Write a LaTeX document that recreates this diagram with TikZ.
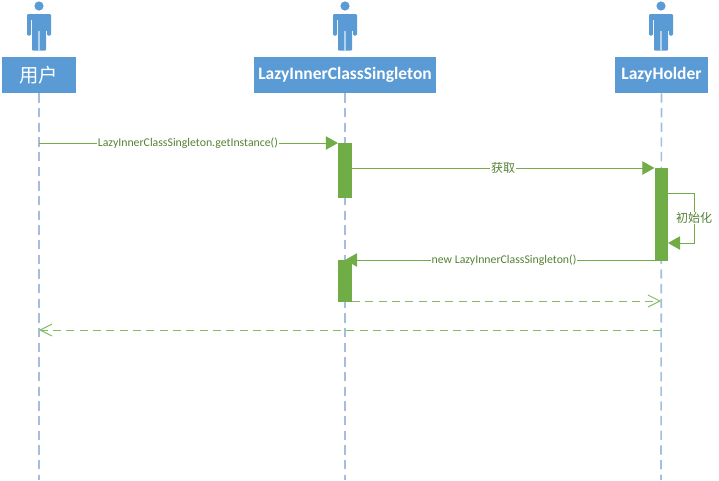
\documentclass[tikz,border=0pt]{standalone}
\usepackage{fontspec}
\setmainfont{Carlito}
\newfontfamily\cjk{Noto Sans CJK SC}
\usetikzlibrary{arrows.meta,calc}
\definecolor{umlblue}{HTML}{5B9BD5}
\definecolor{lifeblue}{HTML}{A3BFDD}
\definecolor{umlgreen}{HTML}{70AD47}
\definecolor{labelgreen}{HTML}{548235}
\tikzset{
 x=0.75pt,y=-0.75pt,
 headbox/.style={fill=umlblue,text=white,inner sep=0pt,minimum height=27pt,font=\bfseries\fontsize{13.1}{15}\selectfont},
 lifeline/.style={draw=lifeblue,line width=1.2pt,dash pattern=on 7pt off 4pt},
 activation/.style={fill=umlgreen,draw=none,inner sep=0pt,minimum width=10.2pt},
 msg/.style={draw=umlgreen,line width=0.75pt,-{Triangle[length=9pt,width=10pt,fill=umlgreen]}},
 reply/.style={draw=umlgreen!85,line width=0.75pt,dash pattern=on 6pt off 4pt,-{Straight Barb[length=9pt,width=9pt,line width=0.75pt]}},
 msglabel/.style={fill=white,inner sep=0.6pt,text=labelgreen,font=\fontsize{8.85}{10}\selectfont},
 cjklabel/.style={fill=white,inner sep=0.6pt,text=labelgreen,font=\cjk\fontsize{9}{11}\selectfont},
}
\newcommand{\personicon}[1]{%
 \begin{scope}[shift={(#1,0)}]
  \fill[umlblue] (0,6) circle[radius=4.6];
  \fill[umlblue,rounded corners=0.8pt] (-12,35.5) -- (-12,14) -- (12,14) -- (12,35.5) -- (8,35.5) -- (8,19) -- (7,19) -- (7,50.7) -- (-7,50.7) -- (-7,19) -- (-8,19) -- (-8,35.5) -- cycle;
  \fill[umlblue] (-7.5,14) rectangle (7.5,31);
  \fill[umlblue!45] (-0.8,31) rectangle (0.8,50.7);
 \end{scope}}
\begin{document}
\begin{tikzpicture}
\useasboundingbox (0,0) rectangle (719,480);
\personicon{39}
\personicon{345}
\personicon{661}
\node[headbox,minimum width=55.5pt] (user) at (39,75) {\cjk\mdseries\fontsize{14.5}{16}\selectfont 用户};
\node[headbox,minimum width=136.5pt] (lazyinner) at (345,75) {LazyInnerClassSingleton};
\node[headbox,minimum width=70pt] (holder) at (661.5,75) {LazyHolder};
\coordinate (userend) at (39,480);
\coordinate (innerend) at (345,480);
\coordinate (holderend) at (661,480);
\draw[lifeline] (user.south) -- (userend);
\draw[lifeline] (lazyinner.south) -- (innerend);
\draw[lifeline] (holder.south) -- (holderend);
\node[activation,minimum height=41.25pt] (act1) at (345,170.5) {};
\node[activation,minimum height=69.75pt] (act2) at (661.5,214.5) {};
\node[activation,minimum height=31.5pt] (act3) at (345,281) {};
\coordinate (m1start) at (39,143);
\coordinate (m2start) at (352,168);
\coordinate (selfa) at (668,193);
\coordinate (selfb) at (694,193);
\coordinate (selfc) at (694,243);
\coordinate (selfd) at (668,243);
\coordinate (m4start) at (655,260);
\coordinate (m4end) at (345,260);
\coordinate (m5start) at (352,301);
\coordinate (m5end) at (661,301);
\coordinate (m6start) at (661,330);
\coordinate (m6end) at (39,330);
\draw[msg] (m1start) -- node[msglabel,pos=0.498]{LazyInnerClassSingleton.getInstance()} (act1.west |- m1start);
\draw[msg] (m2start) -- node[cjklabel,pos=0.5]{获取} (act2.west |- m2start);
\draw[msg] (selfa) -- (selfb) -- (selfc) -- (selfd);
\node[cjklabel] (init) at (694,218) {初始化};
\draw[msg] (m4start) -- node[msglabel,pos=0.487]{new LazyInnerClassSingleton()} (m4end);
\draw[reply] (m5start) -- (m5end);
\draw[reply] (m6start) -- (m6end);
\end{tikzpicture}
\end{document}
